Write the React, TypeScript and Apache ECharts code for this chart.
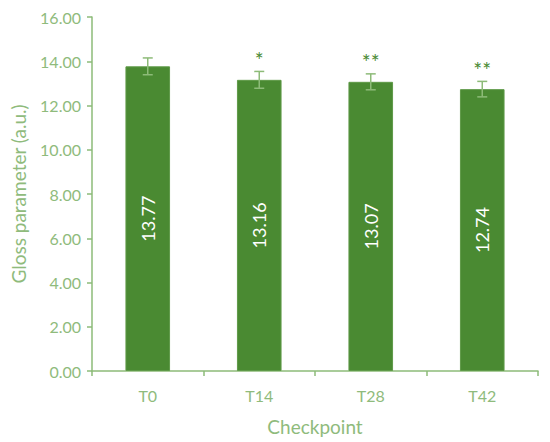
import React, { useEffect, useRef } from "react";
import * as echarts from "echarts";

const categories = ["T0", "T14", "T28", "T42"];
const values = [13.77, 13.16, 13.07, 12.74];
const errors = [0.38, 0.38, 0.36, 0.35];
const significance = ["", "*", "**", "**"];

const barColor = "#4a8a32";
const lightGreen = "#8dbb78";
const textGreen = "#8fbb7c";

export default function App() {
  const ref = useRef<HTMLDivElement>(null);
  useEffect(() => {
    if (!ref.current) return;
    const chart = echarts.init(ref.current, undefined, { renderer: "svg" });
    const errData = values.map((v, i) => [i, v, errors[i]]);
    chart.setOption({
      animation: false,
      textStyle: { fontFamily: "Lato" },
      grid: { left: 92, right: 12, top: 17, bottom: 71 },
      xAxis: {
        type: "category",
        data: categories,
        boundaryGap: true,
        name: "Checkpoint",
        nameLocation: "middle",
        nameGap: 46,
        nameTextStyle: { color: textGreen, fontSize: 19, fontFamily: "Lato" },
        axisLine: { lineStyle: { color: lightGreen, width: 1.5 } },
        axisTick: { show: true, alignWithLabel: false, length: 5, lineStyle: { color: lightGreen, width: 1.5 } },
        axisLabel: { color: textGreen, fontSize: 16, margin: 16, fontFamily: "Lato" },
      },
      yAxis: {
        type: "value",
        min: 0,
        max: 16,
        interval: 2,
        name: "Gloss parameter (a.u.)",
        nameLocation: "middle",
        nameGap: 64,
        nameTextStyle: { color: textGreen, fontSize: 19, fontFamily: "Lato" },
        axisLine: { show: true, lineStyle: { color: lightGreen, width: 1.5 } },
        axisTick: { show: true, length: 5, lineStyle: { color: lightGreen, width: 1.5 } },
        splitLine: { show: false },
        axisLabel: {
          color: textGreen,
          fontSize: 16,
          margin: 11,
          fontFamily: "Lato",
          formatter: (v: number) => v.toFixed(2),
        },
      },
      series: [
        {
          type: "bar",
          data: values,
          barWidth: "40%",
          itemStyle: { color: barColor, borderColor: "#5f9a48", borderWidth: 1 },
          label: {
            show: true,
            position: "inside",
            rotate: 90,
            color: "#ffffff",
            fontSize: 18,
            fontFamily: "Lato",
            formatter: (p: any) => p.value.toFixed(2),
          },
          z: 2,
        },
        {
          type: "custom",
          data: errData,
          z: 3,
          renderItem: (params: any, api: any) => {
            const x = api.value(0);
            const v = api.value(1);
            const e = api.value(2);
            const sig = significance[params.dataIndex];
            const top = api.coord([x, v + e]);
            const bot = api.coord([x, v - e]);
            const cap = 5;
            const style = { stroke: lightGreen, lineWidth: 1.5 };
            const children: any[] = [
              { type: "line", shape: { x1: top[0], y1: top[1], x2: bot[0], y2: bot[1] }, style },
              { type: "line", shape: { x1: top[0] - cap, y1: top[1], x2: top[0] + cap, y2: top[1] }, style },
              { type: "line", shape: { x1: bot[0] - cap, y1: bot[1], x2: bot[0] + cap, y2: bot[1] }, style },
            ];
            if (sig) {
              children.push({
                type: "text",
                style: {
                  text: sig,
                  x: top[0],
                  y: top[1] - 12,
                  align: "center",
                  verticalAlign: "middle",
                  fill: barColor,
                  fontSize: 21,
                  fontFamily: "Lato",
                },
              });
            }
            return { type: "group", children };
          },
        },
      ],
    });
    return () => chart.dispose();
  }, []);
  return (
    <div
      ref={ref}
      style={{ position: "absolute", left: 0, top: 0, width: 550, height: 442 }}
    />
  );
}
